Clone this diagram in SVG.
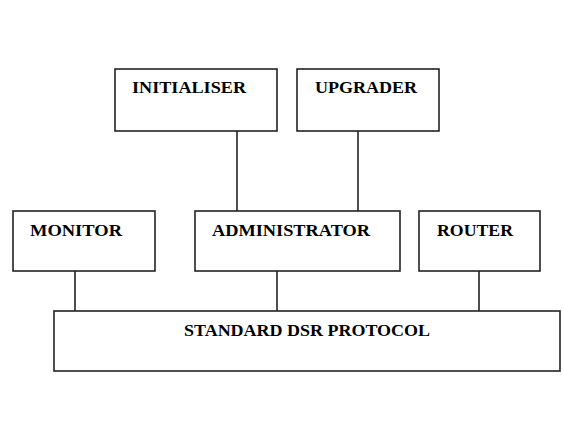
<svg xmlns="http://www.w3.org/2000/svg" width="564" height="421" viewBox="0 0 564 421">
<style>
.box{fill:#fff;stroke:#222;stroke-width:1.6}
.lbl{font-family:"Liberation Serif","Times New Roman",serif;font-weight:bold;font-size:17px;fill:#000}
.con line{stroke:#222;stroke-width:1.6}
</style>
<rect width="564" height="421" fill="#fff"/>
<g class="con" id="connectors">
<line x1="237" y1="131" x2="237" y2="211"/>
<line x1="358" y1="131" x2="358" y2="211"/>
<line x1="75" y1="271" x2="75" y2="311"/>
<line x1="277" y1="271" x2="277" y2="311"/>
<line x1="479" y1="271" x2="479" y2="311"/>
</g>
<g id="initialiser"><rect class="box" x="115" y="69" width="162" height="62"/><text class="lbl" x="132" y="93" textLength="114" lengthAdjust="spacingAndGlyphs">INITIALISER</text></g>
<g id="upgrader"><rect class="box" x="297" y="69" width="142" height="62"/><text class="lbl" x="315" y="93" textLength="102" lengthAdjust="spacingAndGlyphs">UPGRADER</text></g>
<g id="monitor"><rect class="box" x="13" y="211" width="142" height="60"/><text class="lbl" x="30" y="236" textLength="92" lengthAdjust="spacingAndGlyphs">MONITOR</text></g>
<g id="administrator"><rect class="box" x="195" y="211" width="205" height="60"/><text class="lbl" x="212" y="236" textLength="158" lengthAdjust="spacingAndGlyphs">ADMINISTRATOR</text></g>
<g id="router"><rect class="box" x="419" y="211" width="121" height="60"/><text class="lbl" x="437" y="236" textLength="76" lengthAdjust="spacingAndGlyphs">ROUTER</text></g>
<g id="protocol"><rect class="box" x="54" y="311" width="506" height="60"/><text class="lbl" x="184" y="336" textLength="246" lengthAdjust="spacingAndGlyphs">STANDARD DSR PROTOCOL</text></g>
</svg>
